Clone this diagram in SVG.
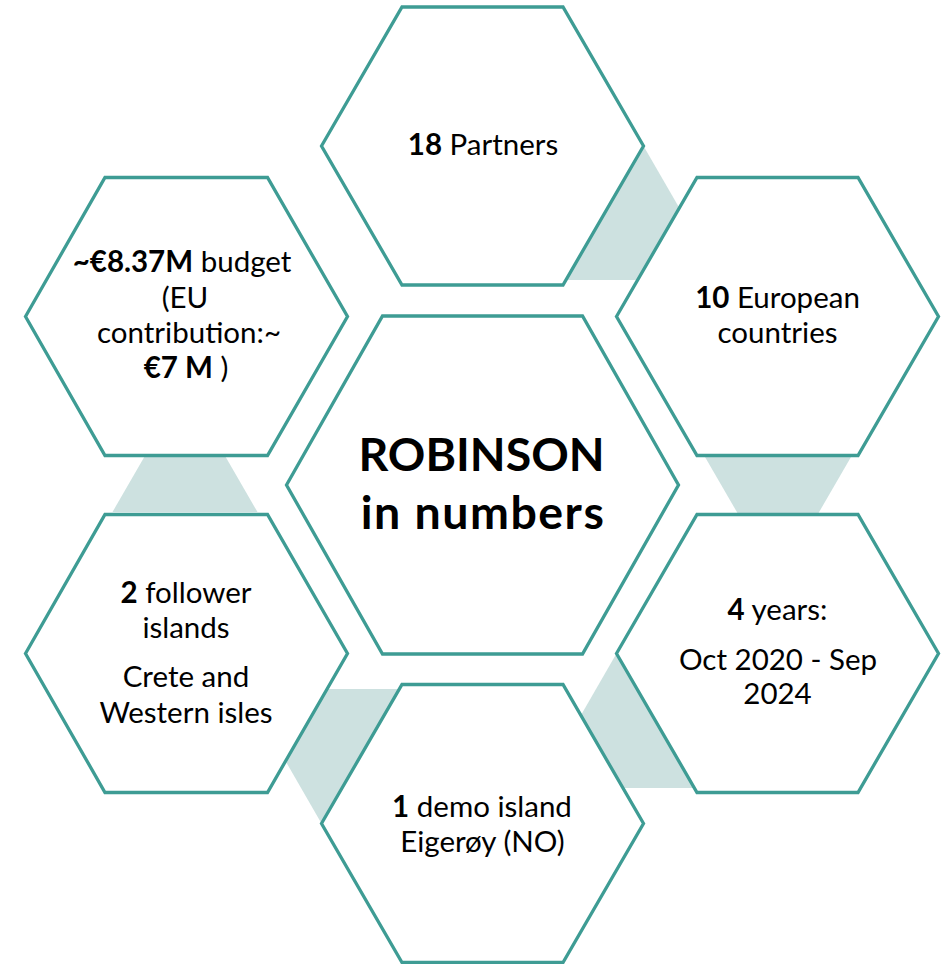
<svg xmlns="http://www.w3.org/2000/svg" width="947" height="964" viewBox="0 0 947 964">
  <style>
    .hex { fill: #ffffff; stroke: #3e9c94; stroke-width: 3.3; stroke-linejoin: miter; }
    .link { fill: #cde1e0; stroke: none; }
    text { font-family: Lato, "Noto Sans", "Liberation Sans", sans-serif; font-size: 29.5px; fill: #000000; text-anchor: middle; }
    .b { font-weight: bold; }
    .title { font-size: 46.5px; font-weight: bold; }
    .wide { letter-spacing: 1.5px; }
  </style>
  <rect width="947" height="964" fill="#ffffff"/>

  <!-- connectors: shaded triangles tying neighbouring cells together -->
  <g id="connectors">
    <polygon class="link" points="643.5,146 721,280 566,280"/>
    <polygon class="link" points="705,457 851,457 778,583"/>
    <polygon class="link" points="616.5,653.5 694,788 539,788"/>
    <polygon class="link" points="321.5,823.5 244,689 399,689"/>
    <polygon class="link" points="185,386.5 112.5,512 257.5,512"/>
  </g>

  <g id="partners">
    <polygon class="hex" points="321.5,146 402,7 563,7 643.5,146 563,285 402,285"/>
    <text x="483" y="155"><tspan class="b">18</tspan> Partners</text>
  </g>

  <g id="countries">
    <polygon class="hex" points="616.5,316.5 697,177.5 858,177.5 938.5,316.5 858,455.5 697,455.5"/>
    <text x="777.5" y="308"><tspan class="b">10</tspan> European</text>
    <text x="777.5" y="343">countries</text>
  </g>

  <g id="duration">
    <polygon class="hex" points="616.5,653.5 697,514.5 858,514.5 938.5,653.5 858,792.5 697,792.5"/>
    <text x="777.5" y="620"><tspan class="b">4</tspan> years:</text>
    <text x="778" y="670">Oct 2020 - Sep</text>
    <text x="777.5" y="704">2024</text>
  </g>

  <g id="demo-island">
    <polygon class="hex" points="321.5,823.5 402,684.5 563,684.5 643.5,823.5 563,962.5 402,962.5"/>
    <text x="482" y="817"><tspan class="b">1</tspan> demo island</text>
    <text x="482.5" y="852">Eigerøy (NO)</text>
  </g>

  <g id="follower-islands">
    <polygon class="hex" points="25.5,653.5 105,514.5 267.5,514.5 347.5,653.5 267.5,792.5 105,792.5"/>
    <text x="186" y="603"><tspan class="b">2</tspan> follower</text>
    <text x="186" y="638">islands</text>
    <text x="186" y="687">Crete and</text>
    <text x="186" y="723">Western isles</text>
  </g>

  <g id="budget">
    <polygon class="hex" points="25.5,316.5 105,177.5 267.5,177.5 347.5,316.5 267.5,455.5 105,455.5"/>
    <text x="182" y="272"><tspan class="b">~€8.37M</tspan> budget</text>
    <text x="185" y="308">(EU</text>
    <text x="189" y="343">contribution:~</text>
    <text x="186" y="378"><tspan class="b">€7 M</tspan> )</text>
  </g>

  <g id="centre">
    <polygon class="hex" points="286.5,485 382.5,316 582.5,316 678.5,485 582.5,654 382.5,654"/>
    <text class="title" x="481.5" y="471">ROBINSON</text>
    <text class="title wide" x="483" y="529">in numbers</text>
  </g>
</svg>
